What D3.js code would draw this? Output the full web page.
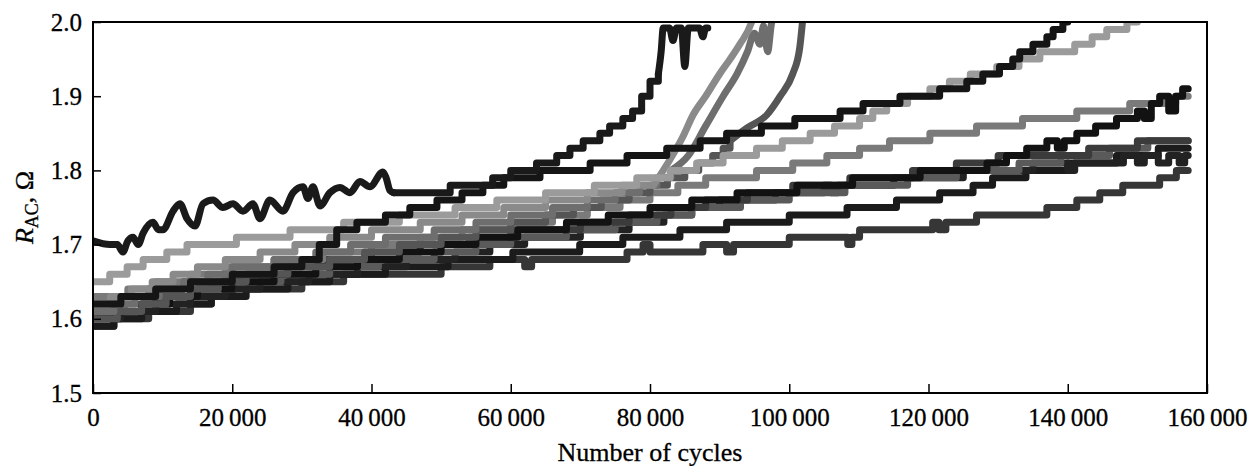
<!DOCTYPE html>
<html>
<head>
<meta charset="utf-8">
<script src="https://cdn.jsdelivr.net/npm/d3@7"></script>
<style>
  body { margin: 0; background: #fff; }
  svg { display: block; }
  .axis text { font-family: "Liberation Serif", "Times New Roman", serif; font-size: 25px; fill: #000; stroke: #000; stroke-width: 0.3; }
  .axis path { display: none; }
  .axis line { stroke: #000; stroke-width: 1.5; }
  .title { font-family: "Liberation Serif", "Times New Roman", serif; font-size: 26px; fill: #000; stroke: #000; stroke-width: 0.3; }
</style>
</head>
<body>
<script>
// tick values
var xTicks = [0, 20000, 40000, 60000, 80000, 100000, 120000, 140000, 160000];
var yTicks = [1.5, 1.6, 1.7, 1.8, 1.9, 2.0];

// series: [cycles, R_AC]
// wiggly start of the top black curve
var seriesA1 = [[0,1.705],[2440,1.70],[3500,1.70],[4300,1.69],[5000,1.705],[5750,1.71],[6500,1.70],[7180,1.715],
  [8620,1.73],[9400,1.72],[10050,1.72],[11490,1.745],[12490,1.755],[13500,1.735],[14650,1.725],[15800,1.755],
  [17230,1.76],[18670,1.75],[20100,1.755],[21540,1.745],[22970,1.755],[23980,1.735],[25400,1.76],[27280,1.745],
  [28720,1.77],[30150,1.778],[30870,1.762],[31590,1.778],[32600,1.752],[34030,1.77],[35470,1.777],[36900,1.77],
  [38340,1.785],[39780,1.778],[41640,1.798],[42100,1.79],[42650,1.773],[43200,1.77]];
var seriesA2 = [[43200,1.77],[51300,1.78],[57400,1.79],[60000,1.80],[63700,1.81],[66600,1.82],[68500,1.83],
  [70400,1.84],[72800,1.85],[74200,1.86],[76100,1.87],[77500,1.88],[78800,1.90],[80000,1.92],[81200,1.93]];
var seriesA3 = [[81200,1.93],[81600,1.96],[81900,1.992],[82800,1.992],[83300,1.975],[83800,1.992],[84500,1.992],
  [85000,1.94],[85500,1.992],[87100,1.992],[87600,1.98],[88000,1.992],[88300,1.992]];

var seriesB1 = [[0,1.62],[2500,1.63],[5500,1.64],[8500,1.65],[11500,1.66],[15000,1.67],[19000,1.68],[24000,1.69],
  [29000,1.70],[34000,1.71],[40000,1.72],[47000,1.73],[53000,1.74],[59000,1.75],[65000,1.76],[71000,1.77],
  [76000,1.78],[80500,1.78]];
var seriesB1Tail = [[80500,1.78],[82900,1.815],[84700,1.845],[86200,1.875],[88000,1.90],[90000,1.93],[91500,1.95],
  [92900,1.97],[94600,2.0],[95200,2.02]];

var seriesB2 = [[0,1.61],[3000,1.62],[6000,1.63],[9500,1.64],[13000,1.65],[16500,1.66],[20000,1.67],[26000,1.68],
  [32000,1.69],[37000,1.70],[42000,1.71],[49000,1.72],[55000,1.73],[60000,1.74],[66000,1.75],[71000,1.76],
  [75000,1.77],[78500,1.78],[81000,1.79],[83000,1.80]];
var seriesB2Tail = [[83000,1.80],[85500,1.82],[88000,1.86],[90500,1.90],[92500,1.93],[94000,1.96],[95000,1.985],
  [95800,1.97],[96300,1.995],[96900,1.96],[97400,1.995],[98000,2.02]];

var seriesB3 = [[0,1.60],[3500,1.61],[7000,1.62],[10500,1.63],[14000,1.64],[18000,1.65],[22000,1.66],[28000,1.67],
  [34000,1.68],[39000,1.69],[44000,1.70],[50000,1.71],[55000,1.72],[60000,1.73],[65000,1.74],[69000,1.75],
  [73000,1.76],[77000,1.77],[80000,1.78],[82500,1.79],[85000,1.80],[87000,1.81],[89000,1.82],[90500,1.83],
  [91500,1.84]];
var seriesB3Tail = [[91500,1.84],[93900,1.857],[96800,1.875],[98700,1.90],[100500,1.93],[101500,1.965],
  [101900,2.0],[102100,2.02]];

var seriesC = [[0,1.62],[4000,1.63],[9000,1.64],[14000,1.65],[20000,1.66],[26000,1.67],[30000,1.68],[32500,1.70],
  [35000,1.72],[37900,1.73],[42000,1.74],[45500,1.75],[49400,1.76],[53000,1.77],[56000,1.78],[59000,1.79],
  [64200,1.80],[71400,1.81],[76700,1.82],[82400,1.83],[87200,1.84],[91000,1.85],[96000,1.86],[100800,1.87],
  [107300,1.88],[110600,1.89],[115900,1.90],[121600,1.91],[125500,1.92],[127800,1.93],[130200,1.94],
  [132100,1.95],[133100,1.96],[135000,1.97],[137000,1.98],[137900,1.99],[139300,2.0],[140000,2.02]];

var seriesD = [[0,1.65],[2400,1.66],[4900,1.67],[7200,1.68],[10600,1.69],[13500,1.70],[20600,1.71],[28300,1.72],
  [36000,1.73],[44000,1.74],[52000,1.75],[58000,1.76],[65000,1.77],[72000,1.78],[78100,1.79],[82900,1.80],
  [86700,1.81],[90500,1.82],[95300,1.83],[99000,1.84],[103000,1.85],[106500,1.86],[110100,1.87],[112000,1.88],
  [114000,1.89],[117000,1.90],[120200,1.91],[123000,1.92],[126000,1.93],[129800,1.94],[133000,1.95],
  [136000,1.96],[141000,1.97],[143500,1.98],[145600,1.99],[148500,2.0],[150000,2.02]];

var seriesE = [[0,1.63],[5000,1.64],[9000,1.65],[14000,1.66],[19000,1.67],[26000,1.68],[33000,1.69],[40000,1.70],
  [47000,1.71],[53000,1.72],[60000,1.73],[66000,1.74],[71000,1.75],[75700,1.76],[80000,1.77],[84000,1.78],
  [88000,1.79],[95300,1.80],[100500,1.81],[105400,1.82],[110100,1.83],[114400,1.84],[120200,1.85],
  [126900,1.86],[133500,1.87],[141300,1.88],[148900,1.89],[155500,1.90],[157300,1.90]];

var seriesF = [[0,1.60],[3000,1.61],[7000,1.62],[11000,1.63],[15000,1.64],[20000,1.65],[26000,1.66],[32000,1.67],
  [38000,1.68],[44000,1.69],[50000,1.70],[55000,1.71],[61000,1.72],[68000,1.73],[74000,1.74],[80000,1.75],
  [86000,1.76],[92500,1.77],[101100,1.78],[109100,1.79],[118800,1.80],[128400,1.81],[131200,1.82],
  [134100,1.83],[137000,1.84],[138500,1.83],[139500,1.84],[141300,1.85],[144000,1.86],[147000,1.87],
  [150000,1.88],[151000,1.87],[152000,1.89],[153200,1.90],[154500,1.88],[155500,1.90],[156500,1.91],[157300,1.91]];

var seriesG1 = [[0,1.62],[4000,1.63],[8000,1.64],[13000,1.65],[19000,1.66],[26000,1.67],[33000,1.68],[40000,1.69],
  [47000,1.70],[54000,1.71],[60000,1.72],[70000,1.73],[77000,1.74],[83000,1.75],[88000,1.76],[94000,1.77],
  [100500,1.78],[108700,1.79],[117700,1.80],[124000,1.81],[130000,1.82],[143000,1.83],[150000,1.84],[157300,1.84]];

var seriesG2 = [[0,1.61],[4500,1.62],[9000,1.63],[14000,1.64],[20000,1.65],[27000,1.66],[34000,1.67],[41000,1.68],
  [49000,1.69],[55000,1.70],[60000,1.71],[68000,1.72],[75000,1.73],[81000,1.74],[86000,1.75],[93000,1.76],
  [100000,1.77],[108000,1.78],[117000,1.79],[124000,1.80],[133000,1.81],[139000,1.82],[146000,1.83],
  [151500,1.84],[157300,1.84]];

var seriesH = [[0,1.60],[4000,1.61],[9000,1.62],[14000,1.63],[19000,1.64],[24000,1.65],[31000,1.66],[38000,1.67],
  [45000,1.68],[52000,1.69],[57000,1.70],[62000,1.71],[70000,1.72],[77000,1.73],[82000,1.74],[86000,1.75],
  [90000,1.76],[98000,1.77],[105000,1.78],[106000,1.77],[107000,1.78],[115000,1.79],[125000,1.80],
  [135000,1.81],[140000,1.80],[141000,1.81],[145000,1.81],[148000,1.82],[150000,1.81],[151000,1.82],
  [153000,1.81],[154500,1.82],[156000,1.81],[156800,1.82],[157300,1.82]];

var seriesJ = [[0,1.59],[3000,1.60],[7000,1.61],[12000,1.62],[17000,1.63],[22000,1.64],[28000,1.65],[34000,1.66],
  [42000,1.67],[51000,1.68],[60300,1.69],[69900,1.70],[76100,1.71],[84300,1.72],[91000,1.73],[100000,1.74],
  [108300,1.75],[115400,1.76],[121600,1.77],[126400,1.78],[129200,1.79],[134000,1.80],[140000,1.81],
  [147000,1.82],[153000,1.83],[157300,1.83]];

var seriesI = [[0,1.59],[3000,1.60],[8000,1.61],[14000,1.62],[17000,1.63],[20000,1.64],[30000,1.65],[36000,1.66],
  [50000,1.67],[57000,1.68],[62000,1.67],[63000,1.68],[76700,1.69],[79000,1.70],[80000,1.69],[87600,1.70],
  [91000,1.69],[92000,1.70],[100000,1.71],[108400,1.70],[109000,1.71],[110100,1.72],[120600,1.73],
  [121500,1.72],[122500,1.73],[126900,1.74],[137000,1.75],[141300,1.76],[144600,1.77],[147900,1.78],
  [153200,1.79],[155600,1.80],[157300,1.80]];

// draw order, grey level and curve type
var lines = [
  {data: seriesI, color: "#363636", curve: "step"},
  {data: seriesJ, color: "#1b1b1b", curve: "step"},
  {data: seriesH, color: "#222222", curve: "step"},
  {data: seriesG2, color: "#5a5a5a", curve: "step"},
  {data: seriesG1, color: "#3b3b3b", curve: "step"},
  {data: seriesE, color: "#7a7a7a", curve: "step"},
  {data: seriesF, color: "#121212", curve: "step"},
  {data: seriesB3, color: "#555555", curve: "step"},
  {data: seriesB3Tail, color: "#555555", curve: "smooth"},
  {data: seriesB2, color: "#6e6e6e", curve: "step"},
  {data: seriesB2Tail, color: "#6e6e6e", curve: "smooth"},
  {data: seriesB1, color: "#8a8a8a", curve: "step"},
  {data: seriesB1Tail, color: "#8a8a8a", curve: "smooth"},
  {data: seriesD, color: "#9b9b9b", curve: "step"},
  {data: seriesC, color: "#151515", curve: "step"},
  {data: seriesA1, color: "#1a1a1a", curve: "smooth"},
  {data: seriesA2, color: "#1a1a1a", curve: "step"},
  {data: seriesA3, color: "#1a1a1a", curve: "smooth"}
];

var W = 1250, H = 466;
var margin = {top: 22, right: 43, bottom: 73, left: 93};
var width = W - margin.left - margin.right,
    height = H - margin.top - margin.bottom;

var svg = d3.select("body").append("svg")
    .attr("width", W)
    .attr("height", H);

var g = svg.append("g")
    .attr("transform", "translate(" + margin.left + "," + margin.top + ")");

var x = d3.scaleLinear().domain([0, 160000]).range([0, width]);
var y = d3.scaleLinear().domain([1.5, 2.0]).range([height, 0]);

var locale = d3.formatLocale({decimal: ".", thousands: "\u2009", grouping: [3], currency: ["", ""]});
var fmtX = locale.format(",");

g.append("defs").append("clipPath")
    .attr("id", "clip")
  .append("rect")
    .attr("width", width)
    .attr("height", height);

var stepLine = d3.line()
    .x(function(d) { return x(d[0]); })
    .y(function(d) { return y(d[1]); })
    .curve(d3.curveStepAfter);

var smoothLine = d3.line()
    .x(function(d) { return x(d[0]); })
    .y(function(d) { return y(d[1]); })
    .curve(d3.curveMonotoneX);

var plot = g.append("g").attr("clip-path", "url(#clip)");

plot.selectAll("path.series")
    .data(lines)
  .enter().append("path")
    .attr("class", "series")
    .attr("fill", "none")
    .attr("stroke", function(d) { return d.color; })
    .attr("stroke-width", 7)
    .attr("stroke-linejoin", "round")
    .attr("stroke-linecap", "round")
    .attr("d", function(d) { return d.curve === "step" ? stepLine(d.data) : smoothLine(d.data); });

// axes, ticks pointing inward
g.append("g")
    .attr("class", "axis")
    .call(d3.axisLeft(y).tickValues(yTicks).tickFormat(d3.format(".1f"))
      .tickSizeInner(-8).tickSizeOuter(0).tickPadding(11));

g.append("g")
    .attr("class", "axis")
    .attr("transform", "translate(0," + height + ")")
    .call(d3.axisBottom(x).tickValues(xTicks).tickFormat(fmtX)
      .tickSizeInner(-9).tickSizeOuter(0).tickPadding(15));

// frame
g.append("rect")
    .attr("width", width)
    .attr("height", height)
    .attr("fill", "none")
    .attr("stroke", "#000")
    .attr("stroke-width", 2);

// axis titles
svg.append("text")
    .attr("class", "title")
    .attr("x", margin.left + width / 2)
    .attr("y", 461)
    .attr("text-anchor", "middle")
    .text("Number of cycles");

var yt = svg.append("text")
    .attr("class", "title")
    .attr("text-anchor", "middle")
    .attr("transform", "translate(33," + (margin.top + height / 2) + ") rotate(-90)");
yt.append("tspan").attr("font-style", "italic").text("R");
yt.append("tspan").attr("font-size", "18px").attr("dy", 5).text("AC");
yt.append("tspan").attr("dy", -5).text(", \u03a9");
</script>
</body>
</html>
